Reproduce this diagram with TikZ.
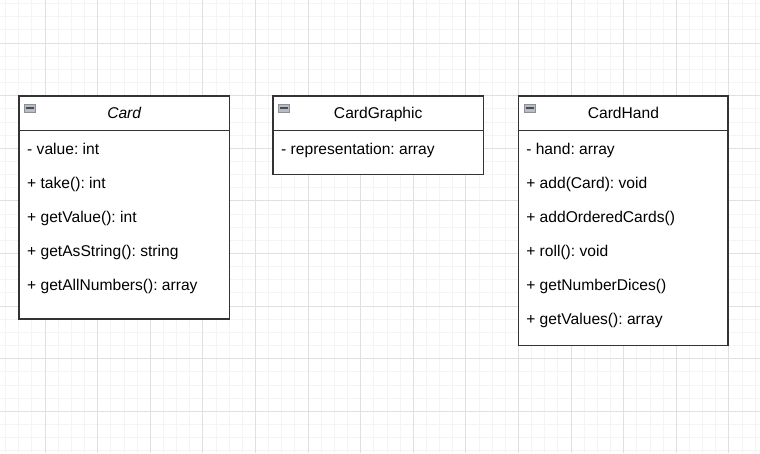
\documentclass[tikz,border=0pt]{standalone}
\usepackage{fontspec}
\setmainfont{Liberation Sans}
\frenchspacing
\definecolor{gridminor}{HTML}{F4F4F4}
\definecolor{gridmajor}{HTML}{E0E0E0}
\definecolor{boxline}{HTML}{333333}
\definecolor{iconfill}{HTML}{B8BCC4}
\definecolor{iconline}{HTML}{8A8F99}
\tikzset{
  classbox/.style={draw=boxline, line width=1.5pt, fill=white, anchor=north west, inner sep=0pt, outer sep=0pt},
  classname/.style={inner sep=0pt, font=\fontsize{15.6}{18}\selectfont, text height=11pt, text depth=3pt},
  member/.style={anchor=west, inner sep=0pt, font=\fontsize{15.6}{18}\selectfont, text height=11pt, text depth=3pt},
  headline/.style={draw=boxline, line width=1.5pt}
}
\newcommand{\foldicon}[1]{%
  \draw[iconline, fill=iconfill, line width=0.6pt] ([shift={(5.5pt,-8pt)}]#1.north west) rectangle ++(11pt,-8.5pt);
  \draw[black!70, line width=1.6pt] ([shift={(7pt,-12.25pt)}]#1.north west) -- ++(8pt,0);
}

\begin{document}
\begin{tikzpicture}[x=1pt, y=-1pt]
\useasboundingbox (0,0) rectangle (760,453);
\fill[white] (0,0) rectangle (760,453);

% grid
\foreach \k in {0,...,57} {
  \draw[gridminor, line width=0.8pt] ({5.55+13.15*\k},0) -- ({5.55+13.15*\k},453);
  \draw[gridminor, line width=0.8pt] (0,{3.55+13.15*\k}) -- (760,{3.55+13.15*\k});
};
\foreach \k in {0,...,14} {
  \draw[gridmajor, line width=0.8pt] ({45+52.6*\k},0) -- ({45+52.6*\k},453);
  \draw[gridmajor, line width=0.8pt] (0,{43+52.6*\k}) -- (760,{43+52.6*\k});
};

% Card
\node[classbox, minimum width=210.4pt, minimum height=223pt] (card) at (19,96) {};
\draw[headline] ([yshift=-34.4pt]card.north west) -- ([yshift=-34.4pt]card.north east);
\node[classname] (cardname) at ([yshift=-18.5pt]card.north) {\itshape Card};
\foldicon{card}
\foreach \txt [count=\i] in {{- value: int}, {+ take(): int}, {+ getValue(): int}, {+ getAsString(): string}, {+ getAllNumbers(): array}}
  \node[member] (card-\i) at ([xshift=8pt, yshift={-54pt-34pt*(\i-1)}]card.north west) {\txt};

% CardGraphic
\node[classbox, minimum width=210.4pt, minimum height=78.6pt] (graphic) at (273,96) {};
\draw[headline] ([yshift=-34.4pt]graphic.north west) -- ([yshift=-34.4pt]graphic.north east);
\node[classname] (graphicname) at ([yshift=-18.5pt]graphic.north) {CardGraphic};
\foldicon{graphic}
\node[member] (graphic-1) at ([xshift=8pt, yshift=-54pt]graphic.north west) {- representation: array};

% CardHand
\node[classbox, minimum width=209.6pt, minimum height=249.4pt] (hand) at (518.6,96) {};
\draw[headline] ([yshift=-34.4pt]hand.north west) -- ([yshift=-34.4pt]hand.north east);
\node[classname] (handname) at ([yshift=-18.5pt]hand.north) {CardHand};
\foldicon{hand}
\foreach \txt [count=\i] in {{- hand: array}, {+ add(Card): void}, {+ addOrderedCards()}, {+ roll(): void}, {+ getNumberDices()}, {+ getValues(): array}}
  \node[member] (hand-\i) at ([xshift=7.5pt, yshift={-54pt-34.1pt*(\i-1)}]hand.north west) {\txt};
\end{tikzpicture}
\end{document}
